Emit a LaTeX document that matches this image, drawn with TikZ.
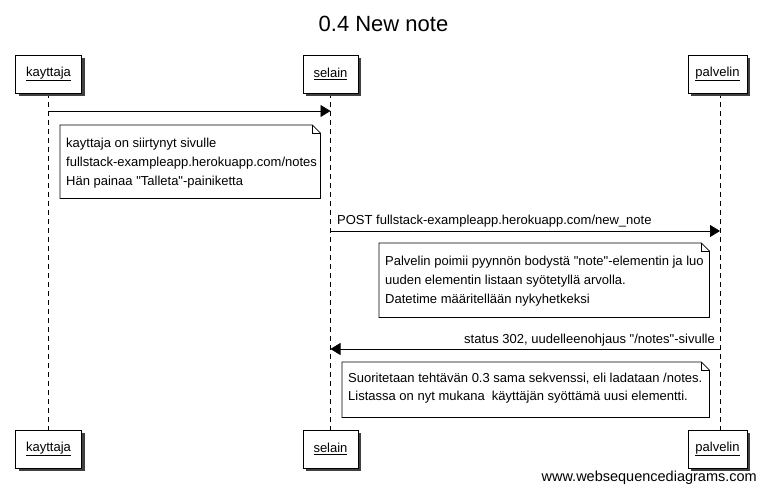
\documentclass[tikz,border=0pt]{standalone}
\usepackage{fontspec}
\setmainfont{Liberation Sans}
\usetikzlibrary{arrows.meta}
\begin{document}
\begin{tikzpicture}[x=1pt,y=-1pt,
  part/.style={draw,fill=white,line width=0.8pt,minimum height=38pt,inner sep=0pt,
    font=\fontsize{13}{15}\selectfont},
  shadowfill/.style={fill=black!75},
  life/.style={dash pattern=on 5pt off 4pt,line width=0.7pt},
  msg/.style={line width=0.8pt,-{Triangle[length=10pt,width=12pt]}},
  noteframe/.style={anchor=north west,inner sep=0pt},
  notetext/.style={anchor=west,align=left,inner xsep=0pt,inner ysep=0pt,
    font=\fontsize{13}{19}\selectfont},
  lbl/.style={font=\fontsize{13}{15}\selectfont,inner sep=0pt},
  noteline/.style={line width=0.7pt},
]
\useasboundingbox (0,0) rectangle (766,492);
\node[font=\fontsize{22}{26}\selectfont] (title) at (383.5,24) {0.4 New note};

\coordinate (kx) at (48.5,93);
\coordinate (sx) at (330.5,93);
\coordinate (px) at (720,93);
\coordinate (kxb) at (48.5,430);
\coordinate (sxb) at (330.5,430);
\coordinate (pxb) at (720,430);
\draw[life] (kx) -- (kxb);
\draw[life] (sx) -- (sxb);
\draw[life] (px) -- (pxb);

% shadows
\fill[shadowfill] (18.5,58) rectangle (84.5,96);
\fill[shadowfill] (306,58) rectangle (361,96);
\fill[shadowfill] (691,58) rectangle (750,96);
\fill[shadowfill] (18.5,433) rectangle (84.5,471);
\fill[shadowfill] (306,433) rectangle (361,471);
\fill[shadowfill] (691,433) rectangle (750,471);

% participants top
\node[part,minimum width=66pt] (kt) at (48.5,74) {\underline{kayttaja}};
\node[part,minimum width=55pt] (st) at (330.5,74) {\underline{selain}};
\node[part,minimum width=59pt] (pt) at (717.5,74) {\underline{palvelin}};
% bottom
\node[part,minimum width=66pt] (kb) at (48.5,449) {\underline{kayttaja}};
\node[part,minimum width=55pt] (sb) at (330.5,449) {\underline{selain}};
\node[part,minimum width=59pt] (pb) at (717.5,449) {\underline{palvelin}};

% message 1
\coordinate (m1a) at (kx |- 0,111);
\coordinate (m1b) at (sx |- 0,111);
\draw[msg] (m1a) -- (m1b);

% note 1
\node[noteframe,minimum width=260pt,minimum height=73pt] (n1) at (60,125) {};
\draw[noteline] (n1.north west) -- ([xshift=-8pt]n1.north east) -- ([yshift=-8pt]n1.north east) -- (n1.south east) -- (n1.south west) -- cycle;
\draw[line width=0.5pt] ([xshift=-8pt]n1.north east) |- ([yshift=-8pt]n1.north east);
\node[notetext] (n1t) at ([xshift=6pt,yshift=-1pt]n1.west)
 {kayttaja on siirtynyt sivulle\\fullstack-exampleapp.herokuapp.com/notes\\Hän painaa \textquotedbl Talleta\textquotedbl -painiketta};

% message 2
\coordinate (m2a) at (sx |- 0,231);
\coordinate (m2b) at (px |- 0,231);
\draw[msg] (m2a) -- (m2b);
\node[lbl,anchor=base west] (l2) at (337,224) {POST fullstack-exampleapp.herokuapp.com/new\_note};

% note 2
\node[noteframe,minimum width=330pt,minimum height=74pt] (n2) at (379,243) {};
\draw[noteline] (n2.north west) -- ([xshift=-8pt]n2.north east) -- ([yshift=-8pt]n2.north east) -- (n2.south east) -- (n2.south west) -- cycle;
\draw[line width=0.5pt] ([xshift=-8pt]n2.north east) |- ([yshift=-8pt]n2.north east);
\node[notetext] (n2t) at ([xshift=6pt,yshift=-1pt]n2.west)
 {Palvelin poimii pyynnön bodystä \textquotedbl note\textquotedbl -elementin ja luo\\uuden elementin listaan syötetyllä arvolla.\\Datetime määritellään nykyhetkeksi};

% message 3
\coordinate (m3a) at (px |- 0,349);
\coordinate (m3b) at (sx |- 0,349);
\draw[msg] (m3a) -- (m3b);
\node[lbl,anchor=base east] (l3) at (715,343) {status 302, uudelleenohjaus \textquotedbl /notes\textquotedbl -sivulle};

% note 3
\node[noteframe,minimum width=367pt,minimum height=55pt] (n3) at (342,362) {};
\draw[noteline] (n3.north west) -- ([xshift=-8pt]n3.north east) -- ([yshift=-8pt]n3.north east) -- (n3.south east) -- (n3.south west) -- cycle;
\draw[line width=0.5pt] ([xshift=-8pt]n3.north east) |- ([yshift=-8pt]n3.north east);
\node[notetext,font=\fontsize{13}{18}\selectfont] (n3t) at ([xshift=6pt,yshift=2pt]n3.west)
 {Suoritetaan tehtävän 0.3 sama sekvenssi, eli ladataan /notes.\\Listassa on nyt mukana\ \ käyttäjän syöttämä uusi elementti.};

\node[lbl,anchor=base east,font=\fontsize{14.5}{16}\selectfont] (wm) at (757,481) {www.websequencediagrams.com};
\end{tikzpicture}
\end{document}
